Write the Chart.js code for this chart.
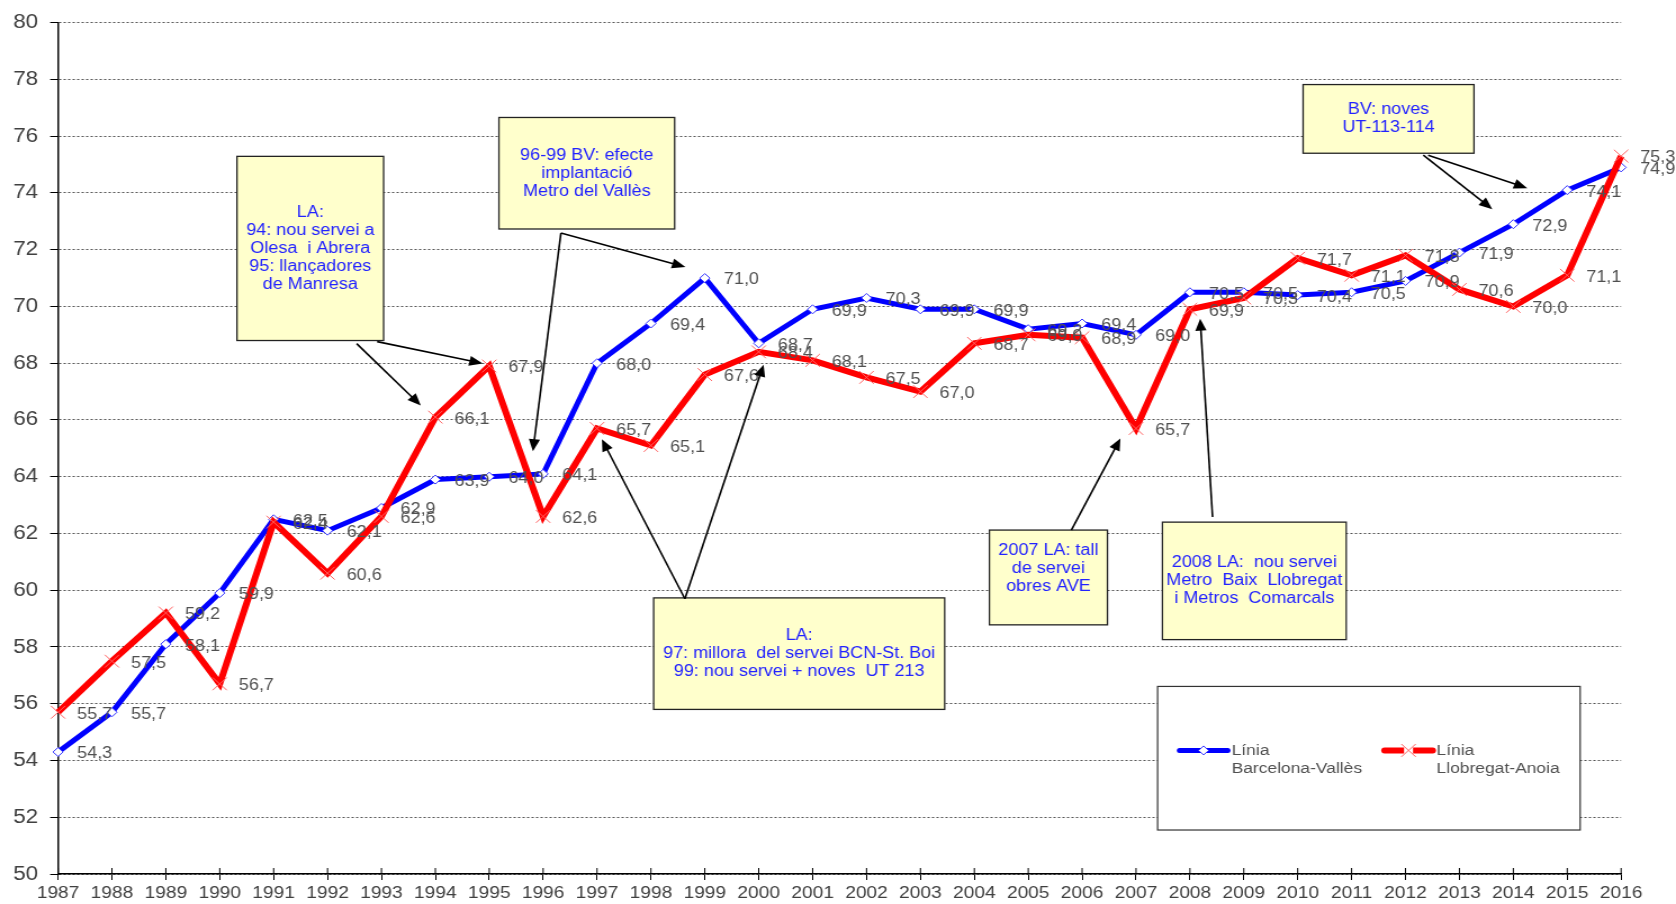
<!DOCTYPE html>
<html><head><meta charset="utf-8">
<script src="https://cdn.jsdelivr.net/npm/chart.js@4.4.1/dist/chart.umd.min.js"></script>
<style>
html,body{margin:0;padding:0;background:#fff;overflow:hidden;width:1676px;height:904px}
#wrap{position:absolute;left:0;top:0;width:1490px;height:904px;transform:scaleX(1.12483);transform-origin:0 0}
</style></head><body>
<div id="wrap"><canvas id="c"></canvas></div>
<script>
// ---------- data ----------
const years = ['1987','1988','1989','1990','1991','1992','1993','1994','1995','1996','1997','1998','1999','2000','2001','2002','2003','2004','2005','2006','2007','2008','2009','2010','2011','2012','2013','2014','2015','2016'];
const bvValues = [54.3,55.7,58.1,59.9,62.5,62.1,62.9,63.9,64.0,64.1,68.0,69.4,71.0,68.7,69.9,70.3,69.9,69.9,69.2,69.4,69.0,70.5,70.5,70.4,70.5,70.9,71.9,72.9,74.1,74.9];
const laValues = [55.7,57.5,59.2,56.7,62.4,60.6,62.6,66.1,67.9,62.6,65.7,65.1,67.6,68.4,68.1,67.5,67.0,68.7,69.0,68.9,65.7,69.9,70.3,71.7,71.1,71.8,70.6,70.0,71.1,75.3];
const bvName = ['Línia','Barcelona-Vallès'];
const laName = ['Línia','Llobregat-Anoia'];
const yMin = 50, yMax = 80, yStep = 2;

// annotation boxes (in data units: year, value)
const noteBoxes = [
  {x0:1990.32, x1:1993.04, y0:75.29, y1:68.80, lines:['LA:','94: nou servei a','Olesa  i Abrera','95: llançadores','de Manresa']},
  {x0:1995.18, x1:1998.44, y0:76.66, y1:72.73, lines:['96-99 BV: efecte','implantació','Metro del Vallès']},
  {x0:2010.10, x1:2013.27, y0:77.82, y1:75.40, lines:['BV: noves','UT-113-114']},
  {x0:1998.05, x1:2003.45, y0:59.73, y1:55.80, lines:['LA:','97: millora  del servei BCN-St. Boi','99: nou servei + noves  UT 213']},
  {x0:2004.28, x1:2006.47, y0:62.12, y1:58.78, ty:60.75, lines:['2007 LA: tall','de servei','obres AVE']},
  {x0:2007.49, x1:2010.90, y0:62.40, y1:58.26, lines:['2008 LA:  nou servei','Metro  Baix  Llobregat','i Metros  Comarcals']}
];
// arrows [fromYear, fromValue, toYear, toValue]
const noteArrows = [
  [1992.54,68.69,1993.73,66.51],
  [1992.92,68.76,1994.88,67.99],
  [1996.33,72.59,1995.81,64.90],
  [1996.33,72.59,1998.64,71.39],
  [1998.63,59.70,1997.09,65.32],
  [1998.63,59.70,2000.09,67.95],
  [2005.80,62.12,2006.71,65.35],
  [2008.42,62.58,2008.19,69.57],
  [2012.33,75.33,2013.61,73.43],
  [2012.42,75.33,2014.26,74.17]
];
const legendArea = {x0:2007.40, x1:2015.24, y0:56.61, y1:51.55};

// ---------- styling ----------
const FONT = '"Liberation Sans", Arial, Helvetica, sans-serif';
const BLUE = '#0000ff', RED = '#ff0000';
const fmt = v => v.toFixed(1).replace('.', ',');

const overlay = {
  id: 'overlay',
  afterDraw(chart) {
    const ctx = chart.ctx, xs = chart.scales.x, ys = chart.scales.y;
    const X = v => xs.getPixelForValue(v - Number(years[0]));
    const Y = v => ys.getPixelForValue(v);

    // inner half of x ticks
    ctx.save();
    ctx.strokeStyle = '#000'; ctx.lineWidth = 1;
    years.forEach((y, i) => {
      const px = xs.getPixelForValue(i);
      ctx.beginPath(); ctx.moveTo(px, ys.bottom); ctx.lineTo(px, ys.bottom - 6); ctx.stroke();
    });
    ctx.restore();

    // data labels
    ctx.save();
    ctx.font = '16px ' + FONT;
    ctx.fillStyle = '#505050';
    ctx.textAlign = 'left'; ctx.textBaseline = 'middle';
    chart.data.datasets.forEach((ds, di) => {
      const meta = chart.getDatasetMeta(di);
      meta.data.forEach((el, i) => {
        ctx.fillText(fmt(ds.data[i]), el.x + 17, el.y + 2);
      });
    });
    ctx.restore();

    // annotation boxes
    ctx.save();
    noteBoxes.forEach(b => {
      const l = X(b.x0), r = X(b.x1), t = Y(b.y0), bt = Y(b.y1);
      ctx.fillStyle = '#ffffcc';
      ctx.fillRect(l, t, r - l, bt - t);
      ctx.strokeStyle = '#222'; ctx.lineWidth = 1.3;
      ctx.strokeRect(l, t, r - l, bt - t);
      ctx.fillStyle = '#2222ff';
      ctx.font = '16px ' + FONT;
      ctx.textAlign = 'center'; ctx.textBaseline = 'middle';
      const cy = b.ty !== undefined ? Y(b.ty) : (t + bt) / 2;
      const lh = 18;
      const n = b.lines.length;
      b.lines.forEach((s, k) => {
        ctx.fillText(s, (l + r) / 2, cy + (k - (n - 1) / 2) * lh);
      });
    });
    ctx.restore();

    // arrows
    ctx.save();
    ctx.strokeStyle = '#000'; ctx.fillStyle = '#000'; ctx.lineWidth = 1.6;
    noteArrows.forEach(a => {
      const x1 = X(a[0]), y1 = Y(a[1]), x2 = X(a[2]), y2 = Y(a[3]);
      const ang = Math.atan2(y2 - y1, x2 - x1);
      const L = 12, W = 5;
      const c = Math.cos(ang), s = Math.sin(ang);
      ctx.beginPath(); ctx.moveTo(x1, y1); ctx.lineTo(x2 - L * 0.8 * c, y2 - L * 0.8 * s); ctx.stroke();
      ctx.beginPath();
      ctx.moveTo(x2, y2);
      ctx.lineTo(x2 - L * c + W * s, y2 - L * s - W * c);
      ctx.lineTo(x2 - L * c - W * s, y2 - L * s + W * c);
      ctx.closePath(); ctx.fill();
    });
    ctx.restore();

    // legend
    ctx.save();
    const gl = X(legendArea.x0), gr = X(legendArea.x1), gt = Y(legendArea.y0), gb = Y(legendArea.y1);
    ctx.fillStyle = '#fff'; ctx.fillRect(gl, gt, gr - gl, gb - gt);
    ctx.strokeStyle = '#333'; ctx.lineWidth = 1.2; ctx.strokeRect(gl, gt, gr - gl, gb - gt);
    const entries = [
      {ds: chart.data.datasets[0], dx: 19.6, tx: 65.8, names: bvName, kind: 'diamond'},
      {ds: chart.data.datasets[1], dx: 201.8, tx: 248, names: laName, kind: 'cross'}
    ];
    entries.forEach(e => {
      const ly = gt + 64;
      ctx.strokeStyle = e.ds.borderColor; ctx.lineWidth = e.ds.borderWidth; ctx.lineCap = 'round';
      ctx.beginPath(); ctx.moveTo(gl + e.dx, ly); ctx.lineTo(gl + e.dx + 42.7, ly); ctx.stroke();
      const mx = gl + e.dx + 21.3;
      ctx.lineCap = 'butt';
      if (e.kind === 'diamond') {
        const r = 4.5;
        ctx.beginPath(); ctx.moveTo(mx - r, ly); ctx.lineTo(mx, ly - r); ctx.lineTo(mx + r, ly); ctx.lineTo(mx, ly + r); ctx.closePath();
        ctx.fillStyle = '#fff'; ctx.fill(); ctx.strokeStyle = e.ds.pointBorderColor; ctx.lineWidth = 1; ctx.stroke();
      } else {
        const r = 6.4;
        ctx.fillStyle = '#fff'; ctx.fillRect(mx - 4, ly - 4, 8, 8);
        ctx.strokeStyle = e.ds.pointBorderColor; ctx.lineWidth = 1;
        ctx.beginPath(); ctx.moveTo(mx - r, ly - r); ctx.lineTo(mx + r, ly + r); ctx.moveTo(mx - r, ly + r); ctx.lineTo(mx + r, ly - r); ctx.stroke();
      }
      ctx.fillStyle = '#505050'; ctx.font = '15.5px ' + FONT;
      ctx.textAlign = 'left'; ctx.textBaseline = 'middle';
      ctx.fillText(e.names[0], gl + e.tx, ly);
      ctx.fillText(e.names[1], gl + e.tx, ly + 18);
    });
    ctx.restore();
  }
};

new Chart(document.getElementById('c'), {
  type: 'line',
  data: {
    labels: years,
    datasets: [
      {label: bvName.join(' '), data: bvValues, borderColor: BLUE, borderWidth: 5, order: 2,
       pointStyle: 'rectRot', pointRadius: 4.5, pointBackgroundColor: '#fff', pointBorderColor: '#3333ff', pointBorderWidth: 1,
       tension: 0, fill: false, clip: false},
      {label: laName.join(' '), data: laValues, borderColor: RED, borderWidth: 6, order: 1,
       pointStyle: 'crossRot', pointRadius: 9, pointBackgroundColor: '#ff6060', pointBorderColor: '#ff6060', pointBorderWidth: 1,
       tension: 0, fill: false, clip: false}
    ]
  },
  options: {
    responsive: true, maintainAspectRatio: false, animation: false,
    layout: {padding: {top: 20, right: 48.8, bottom: 0, left: 0}},
    plugins: {legend: {display: false}, tooltip: {enabled: false}},
    scales: {
      x: {
        type: 'category', offset: false,
        grid: {display: true, drawOnChartArea: false, drawTicks: true, tickLength: 6, tickColor: '#000', tickWidth: 1},
        border: {display: true, color: '#000', width: 1.5},
        ticks: {font: {family: FONT, size: 17}, color: '#404040', padding: 3, maxRotation: 0, autoSkip: false},
        afterFit: s => { s.height = 30; }
      },
      y: {
        min: yMin, max: yMax,
        grid: {color: '#555', lineWidth: 1, drawTicks: true, tickLength: 7, tickColor: '#000', tickWidth: 1},
        border: {display: true, color: '#000', width: 1.5, dash: [2, 2]},
        ticks: {stepSize: yStep, font: {family: FONT, size: 20}, color: '#404040', padding: 10.7},
        afterFit: s => { s.width = 51.6; }
      }
    }
  },
  plugins: [overlay]
});
</script>
</body></html>
